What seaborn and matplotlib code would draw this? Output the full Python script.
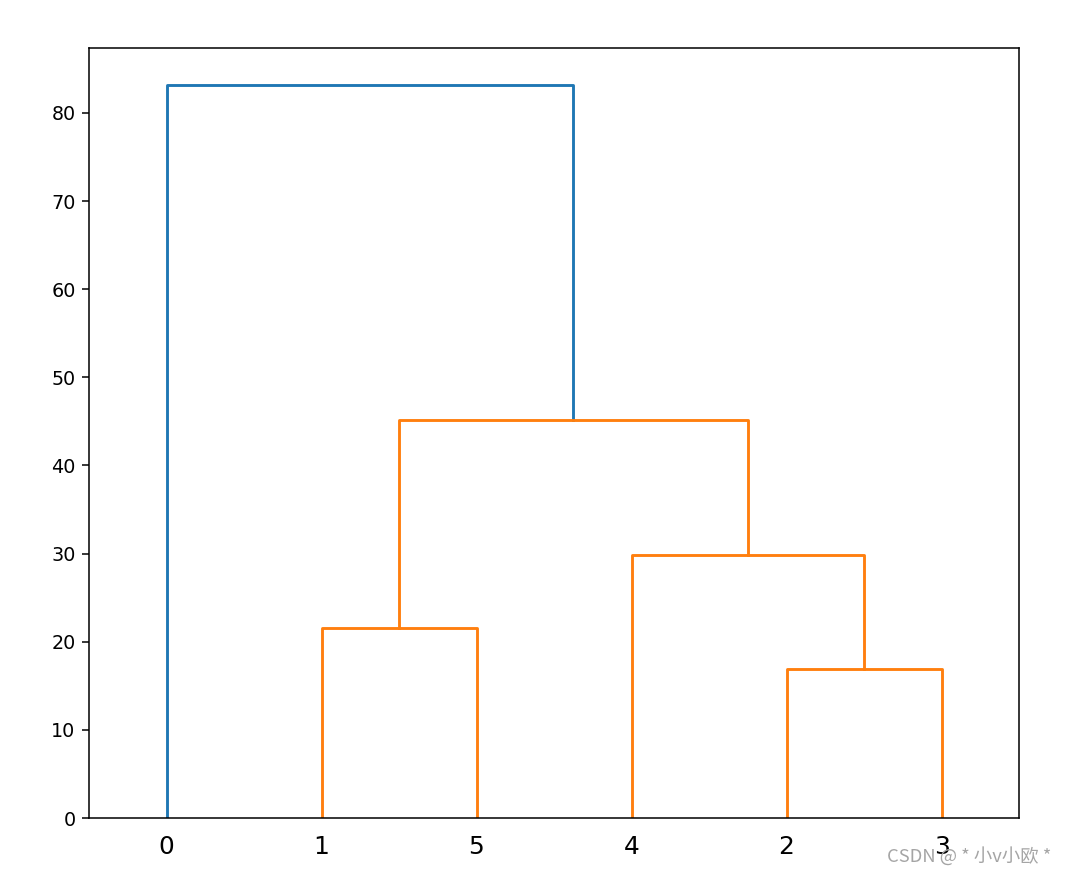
import pandas as pd
import seaborn as sns
import matplotlib.pyplot as plt

# leaf order along the x axis (original observation ids)
leaf_order = [0, 1, 5, 4, 2, 3]

# merges, scipy-linkage style: cluster n+i is created by merge i
merge_left = [2, 1, 4, 7, 0]
merge_right = [3, 5, 6, 8, 9]
merge_height = [16.9, 21.6, 29.8, 45.1, 83.2]
merge_color = ['C1', 'C1', 'C1', 'C1', 'C0']

n = len(leaf_order)

# x position / height of every node (leaves first, then clusters)
node_x = {}
node_h = {}
for i, leaf in enumerate(leaf_order):
    node_x[leaf] = 5 + 10 * i
    node_h[leaf] = 0.0

rows = []
for i, (a, b, h, c) in enumerate(zip(merge_left, merge_right, merge_height, merge_color)):
    xa, xb = node_x[a], node_x[b]
    for x, y in [(xa, node_h[a]), (xa, h), (xb, h), (xb, node_h[b])]:
        rows.append({'link': i, 'x': x, 'y': y, 'color': c})
    node_x[n + i] = (xa + xb) / 2
    node_h[n + i] = h
links = pd.DataFrame(rows)

DPI = 138
fig = plt.figure(figsize=(1066 / DPI, 874 / DPI), dpi=DPI)
ax = fig.add_axes([89 / 1066, 1 - 818 / 874, 930 / 1066, 770 / 874])

sns.lineplot(data=links, x='x', y='y', units='link', estimator=None, sort=False,
             hue='color', hue_order=['C0', 'C1'],
             palette={'C0': '#1f77b4', 'C1': '#ff7f0e'},
             linewidth=1.5, legend=False, ax=ax)

ax.set_xlim(0, 10 * n)
ax.set_ylim(0, 1.05 * max(merge_height))
ax.set_xticks([5 + 10 * i for i in range(n)])
ax.set_xticklabels([str(l) for l in leaf_order], fontsize=13)
ax.tick_params(axis='x', pad=5.5)
for line in ax.get_xticklines():
    line.set_visible(False)
ax.set_xlabel('')
ax.set_ylabel('')

fig.text(1051 / 1066, 1 - 862 / 874, 'CSDN @ * 小v小欧 *', ha='right', va='baseline',
         fontsize=9.6, color='#a5a5a5', family=['Noto Sans CJK SC', 'DejaVu Sans'])

plt.savefig('out.png', dpi=DPI)
plt.close()
